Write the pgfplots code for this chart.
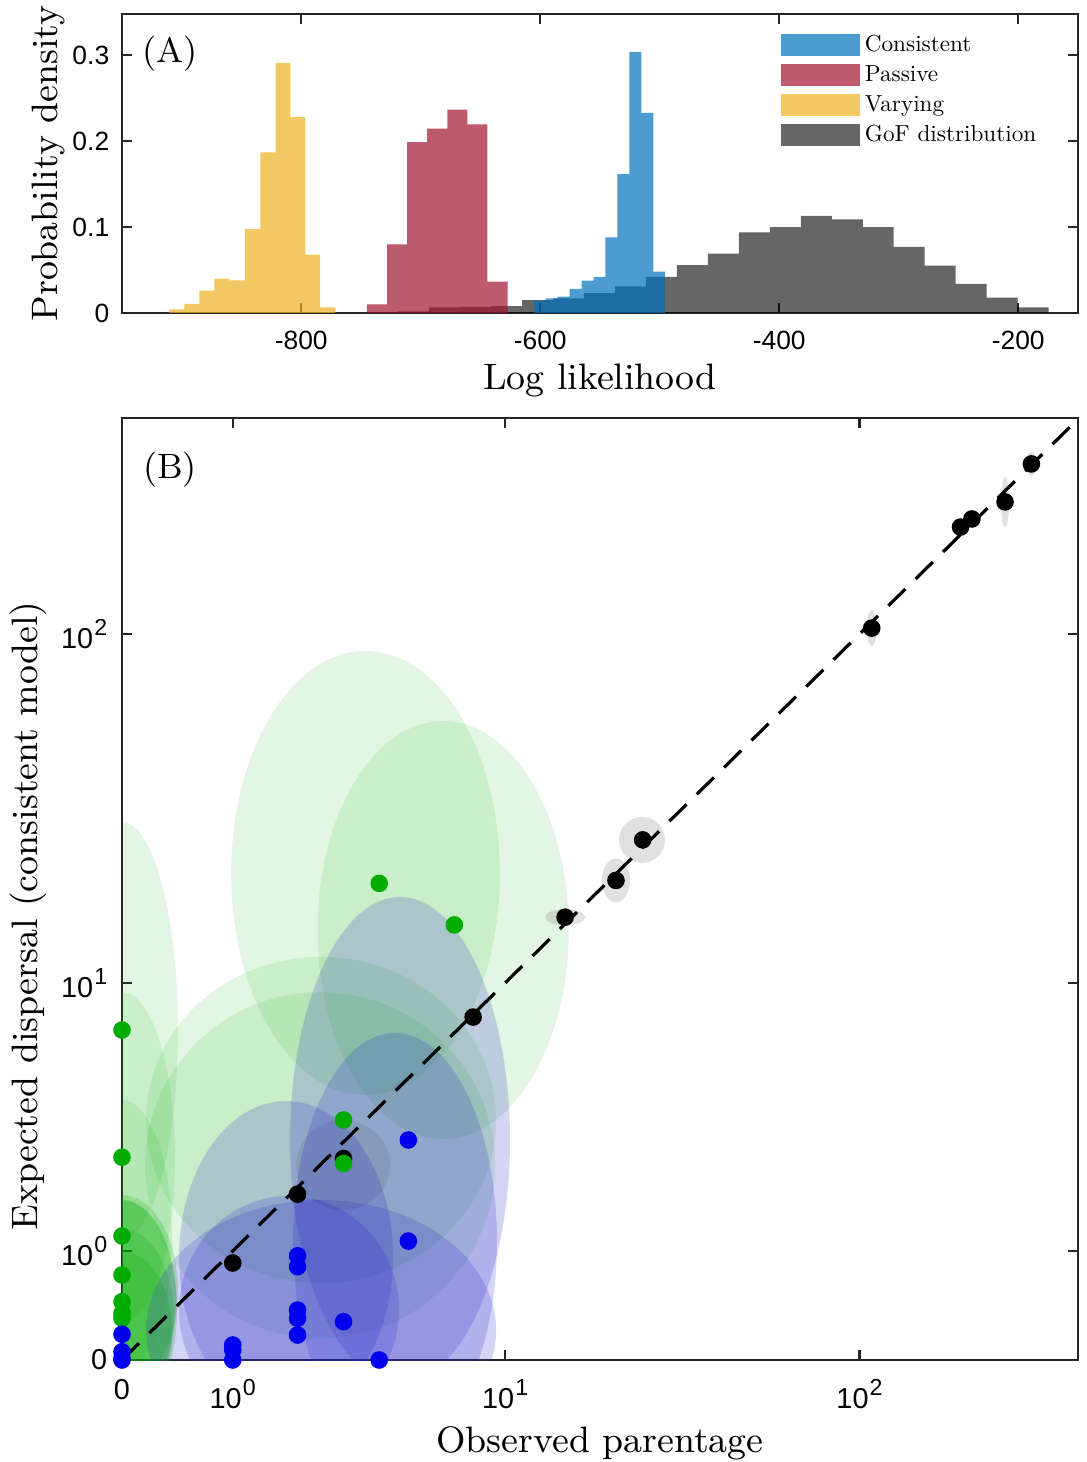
\documentclass[border=0pt]{standalone}
\usepackage{fontspec}
\usepackage{pgfplots}
\pgfplotsset{compat=1.18}
\newfontfamily\hel{Liberation Sans}
\definecolor{axgray}{RGB}{38,38,38}
\definecolor{cblue}{RGB}{0,114,189}
\definecolor{cred}{RGB}{162,20,47}
\definecolor{cyel}{RGB}{237,177,32}
\definecolor{dotgreen}{RGB}{0,172,0}
\definecolor{dotblue}{RGB}{0,0,238}
\definecolor{ellblue}{RGB}{40,40,200}
\newcommand\sups[1]{\kern0.3pt\raisebox{0.45em}{\fontsize{5.8}{6.5}\selectfont #1}}
\newcommand\leg[1]{\scalebox{0.58}{\fontsize{10}{12}\selectfont #1}}

% ellipse marker, radii (pt) taken from the table
\pgfdeclareplotmark{ell}{%
  \pgfpathellipse{\pgfpointorigin}{\pgfpoint{\rx pt}{0pt}}{\pgfpoint{0pt}{\ry pt}}%
  \pgfusepathqfill}

\pgfplotsset{
  mlab/.style={scale only axis, axis line style={axgray, line width=0.6pt},
    tick style={axgray, line width=0.6pt}, tick align=inside,
    major tick length=2.6pt, minor tick num=0},
  histleg/.style={legend image code/.code={\fill[##1] (0pt,-2.75pt) rectangle (19.75pt,2.75pt);}},
  ells/.style 2 args={only marks, mark=ell, clip marker paths=true,
    visualization depends on=value \thisrow{rx}\as\rx,
    visualization depends on=value \thisrow{ry}\as\ry,
    mark options={draw=none, fill=#1, fill opacity=#2}},
}

\begin{document}
\begin{tikzpicture}
\useasboundingbox (-30.5pt,-25.5pt) rectangle (241pt,340pt);

% ---------- (A) histograms
\begin{axis}[mlab, name=A, at={(0,261.75pt)}, anchor=south west,
  width=239pt, height=74.75pt,
  xmin=-950, xmax=-150, ymin=0, ymax=0.348,
  xtick={-800,-600,-400,-200}, xticklabels={-800,-600,-400,-200},
  ytick={0,0.1,0.2,0.3}, yticklabels={0,0.1,0.2,0.3},
  ticklabel style={font=\fontsize{6.6}{7.9}\hel},
  xticklabel style={inner ysep=0pt, yshift=-4.4pt},
  yticklabel style={inner xsep=0pt, xshift=-3pt},
  legend style={draw=none, fill=none, at={(0.689,0.95)}, anchor=north west,
    inner sep=0pt, row sep=0pt,
    nodes={inner ysep=0.95pt, inner xsep=1.1pt, text height=4.4pt, text depth=1.2pt}},
  legend cell align=left]

\addplot[ybar interval, fill=black, fill opacity=0.6, draw=none, forget plot] coordinates {
 (-744.8,0.001) (-718.9,0.002) (-693.0,0.0066) (-667.0,0.007) (-641.1,0.008)
 (-615.2,0.015) (-589.3,0.017) (-563.4,0.023) (-537.5,0.031) (-511.5,0.042)
 (-485.6,0.0558) (-459.7,0.069) (-433.8,0.0938) (-407.9,0.100) (-381.9,0.113)
 (-356.0,0.109) (-330.1,0.100) (-304.2,0.077) (-278.3,0.055) (-252.4,0.034)
 (-226.4,0.018) (-200.5,0.0066) (-174.6,0)};

\addplot[ybar interval, fill=cblue, fill opacity=0.7, draw=none, histleg] coordinates {
 (-605.4,0.0143) (-595.4,0.017) (-585.4,0.019) (-575.4,0.028) (-565.4,0.0376)
 (-555.4,0.042) (-545.4,0.088) (-535.4,0.1616) (-525.4,0.304) (-515.4,0.233)
 (-505.4,0.048) (-495.4,0)};
\addlegendentry{\leg{Consistent}}

\addplot[ybar interval, fill=cred, fill opacity=0.7, draw=none, histleg] coordinates {
 (-745.0,0.0101) (-728.2,0.0798) (-711.4,0.1988) (-694.6,0.2147) (-677.8,0.2368)
 (-661.0,0.2194) (-644.2,0.0365) (-627.4,0)};
\addlegendentry{\leg{Passive}}

\addplot[ybar interval, fill=cyel, fill opacity=0.7, draw=none, histleg] coordinates {
 (-910.3,0.0043) (-897.7,0.0105) (-885.2,0.026) (-872.6,0.040) (-860.1,0.038)
 (-846.9,0.0977) (-834.3,0.187) (-821.5,0.291) (-809.2,0.228) (-796.6,0.068)
 (-784.1,0.0066) (-771.5,0)};
\addlegendentry{\leg{Varying}}

\addlegendimage{histleg, fill=black, fill opacity=0.6, draw=none}
\addlegendentry{\leg{GoF distribution}}
\end{axis}

% ---------- (B) observed vs expected, axes in log10(1+v)
\begin{axis}[mlab, name=B, at={(0,0)}, anchor=south west,
  width=239pt, height=235.5pt,
  x filter/.expression={log10(1+x)}, y filter/.expression={log10(1+y)},
  xmin=0, xmax=2.598, ymin=0, ymax=2.601,
  xtick={0,0.30103,1.04139,2.00432},
  xticklabels={0,10\sups{0},10\sups{1},10\sups{2}},
  ytick={0,0.30103,1.04139,2.00432},
  yticklabels={0,10\sups{0},10\sups{1},10\sups{2}},
  ticklabel style={font=\fontsize{7.2}{8.6}\hel},
  xticklabel style={inner ysep=0pt, yshift=-4.6pt},
  yticklabel style={inner xsep=0pt, xshift=-3.5pt}]

\addplot[ells={dotgreen}{0.11}] table[row sep=\\] {
x y rx ry \\
3.59 21.1 33.6 55.5 \\
6.46 14.39 31.4 52.25 \\
0 7.15 14 52 \\
0 2.63 13.25 41.25 \\
0 1.20 12.5 34 \\
2.475 3.60 43.75 40.75 \\
2.454 2.45 43.75 43.25 \\
};
% the crowded ones at zero
\addplot[ells={dotgreen}{0.2}] table[row sep=\\] {
x y rx ry \\
0 0.561 14 23.75 \\
0 0.465 13.5 25 \\
0 0.374 13.75 27.5 \\
0 0.30 13 22.5 \\
0 0.20 12.5 20 \\
};

\addplot[ells={ellblue}{0.2}] table[row sep=\\] {
x y rx ry \\
1.792 0.925 26.75 39 \\
1.844 0.374 27.5 28.5 \\
2.475 0.21 43.75 32.5 \\
4.695 3.05 27.5 60.75 \\
4.52 1.13 25.5 52 \\
};

\addplot[ells={black}{0.07}] table[row sep=\\] {
x y rx ry \\
2.99 2.45 11.75 11.25 \\
};
\addplot[ells={black}{0.12}] table[row sep=\\] {
x y rx ry \\
24.9 26.3 5.75 5.75 \\
21.0 20.1 3.5 5.5 \\
15.0 15.7 5 2 \\
108 103.9 1.25 4.5 \\
250 233 1 6.25 \\
295 297 1.25 3 \\
};

\addplot[black, line width=0.8pt, dash pattern=on 6pt off 3.6pt] coordinates {(0,0) (400,400)};

\addplot[only marks, mark=*, mark size=2pt, black] coordinates {
 (1,0.853) (2,1.87) (3,2.6) (8,7.85) (15,15.7) (21,20.1) (25,26.3)
 (108,103.9) (189,198.5) (203,209) (250,233) (295,297)};

\addplot[only marks, mark=*, mark size=2pt, dotgreen] coordinates {
 (0,7.15) (0,2.63) (0,1.20) (0,0.717) (0,0.449) (0,0.346) (0,0.304)
 (3,3.60) (3,2.49) (4,19.7) (7,14.9)};

\addplot[only marks, mark=*, mark size=2pt, dotblue] coordinates {
 (0,0.178) (0,0.054) (0,0.011) (0,0) (1,0.10) (1,0.066) (1,0)
 (2,0.94) (2,0.81) (2,0.374) (2,0.304) (2,0.172) (3,0.276) (4,0)
 (5,3.05) (5,1.13)};
\end{axis}

% ---------- titles and labels
\node[font=\fontsize{8.8}{10.5}\selectfont] at ([xshift=12pt,yshift=-10pt]A.north west) {(A)};
\node[font=\fontsize{8.8}{10.5}\selectfont] at ([xshift=12pt,yshift=-13pt]B.north west) {(B)};
\node[anchor=base, font=\fontsize{9.2}{11}\selectfont] at ([yshift=-19.25pt]A.south) {Log likelihood};
\node[anchor=base, rotate=90, font=\fontsize{9.2}{11}\selectfont] at ([xshift=-16.25pt]A.west) {Probability density};
\node[anchor=base, font=\fontsize{9.2}{11}\selectfont] at ([yshift=-23pt]B.south) {Observed parentage};
\node[anchor=base, rotate=90, font=\fontsize{9.2}{11}\selectfont] at ([xshift=-21pt,yshift=-6.75pt]B.west) {Expected dispersal (consistent model)};
\end{tikzpicture}
\end{document}
